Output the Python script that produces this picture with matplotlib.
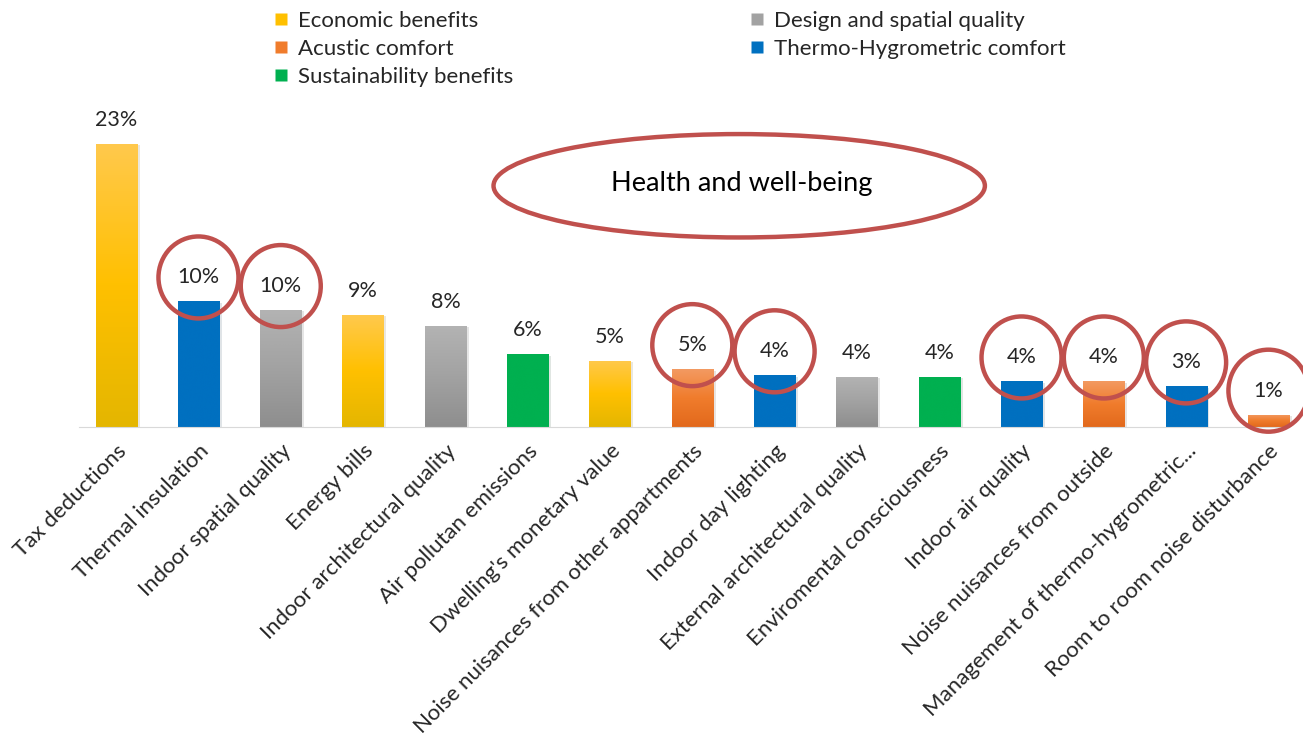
import numpy as np
import matplotlib
matplotlib.use("Agg")
import matplotlib.pyplot as plt
import matplotlib.colors as mcolors
from matplotlib.lines import Line2D
from matplotlib.patches import Ellipse
from matplotlib.transforms import ScaledTranslation
import matplotlib.patheffects as pe

plt.rcParams['font.family'] = ['Lato', 'DejaVu Sans']

# survey answers, share of respondents (%)
items = ["Tax deductions", "Thermal insulation", "Indoor spatial quality", "Energy bills",
         "Indoor architectural quality", "Air pollutan emissions", "Dwelling's monetary value",
         "Noise nuisances from other appartments", "Indoor day lighting",
         "External architectural quality", "Enviromental consciousness", "Indoor air quality",
         "Noise nuisances from outside", "Management of thermo-hygrometric...",
         "Room to room noise disturbance"]
shares = [23.0, 10.2, 9.5, 9.1, 8.2, 5.9, 5.4, 4.7, 4.2, 4.1, 4.1, 3.7, 3.7, 3.3, 1.0]
groups = ["eco", "thermo", "design", "eco", "design", "sust", "eco", "acu", "thermo",
          "design", "sust", "thermo", "acu", "thermo", "acu"]
# items that belong to health and well-being
health = [1, 2, 7, 8, 11, 12, 13, 14]

group_names = {"eco": "Economic benefits", "acu": "Acustic comfort",
               "sust": "Sustainability benefits", "design": "Design and spatial quality",
               "thermo": "Thermo-Hygrometric comfort"}
# top -> bottom colour stops for each group
group_grad = {"eco": ["#FFC94D", "#FFC000", "#E4B600"],
              "design": ["#B3B3B3", "#A2A2A2", "#8E8E8E"],
              "acu": ["#F39A62", "#F07C2C", "#E2691C"],
              "thermo": ["#0070C0", "#0070C0", "#0070C0"],
              "sust": ["#00B050", "#00B050", "#00B050"]}

fig = plt.figure(figsize=(13.03, 7.42), dpi=100)
ax = fig.add_axes([75 / 1303, 315 / 742, 1228 / 1303, 320 / 742])

x = np.arange(len(items))
bars = ax.bar(x, shares, width=0.5, color=[group_grad[g][1] for g in groups], zorder=2,
              path_effects=[pe.SimplePatchShadow(offset=(2, -1), alpha=0.12), pe.Normal()])

# vertical gradient fill clipped to each bar
for b, g in zip(bars, groups):
    cmap = mcolors.LinearSegmentedColormap.from_list(g, group_grad[g])
    grad = np.linspace(0, 1, 256).reshape(-1, 1)
    x0, y0 = b.get_x(), b.get_y()
    im = ax.imshow(grad, cmap=cmap, extent=[x0, x0 + b.get_width(), y0, y0 + b.get_height()],
                   origin='upper', aspect='auto', interpolation='bicubic', zorder=2.1)
    im.set_clip_path(b)

for xi, v in zip(x, shares):
    ax.annotate(f"{v:.0f}%", (xi, v), xytext=(0, 17.3), textcoords='offset points',
                ha='center', va='center', fontsize=15.5, color='#262626')

# red rings round the health-related labels
for i in health:
    tr = fig.dpi_scale_trans + ScaledTranslation(x[i], shares[i], ax.transData)
    ax.add_patch(Ellipse((0, 0.24), 0.80, 0.82, transform=tr, fill=False,
                         edgecolor='#C0504D', lw=3.2, zorder=4, clip_on=False))

ax.add_patch(Ellipse((7.57, 19.6), 5.97, 8.4, fill=False, edgecolor='#C0504D', lw=3.2, zorder=4))
ax.text(7.6, 19.75, "Health and well-being", ha='center', va='center', fontsize=19.5,
        color='black')

ax.set_xlim(-0.5, 14.42)
ax.set_ylim(0, 26)
ax.set_yticks([])
ax.set_xticks(x, items, rotation=45, ha='right', rotation_mode='anchor', fontsize=16,
              color='#262626')
ax.tick_params(axis='x', length=0, pad=10)
for s in ['top', 'right', 'left']:
    ax.spines[s].set_visible(False)
ax.spines['bottom'].set_color('#D9D9D9')
ax.spines['bottom'].set_bounds(-0.45, 14.25)

def handle(g):
    return Line2D([], [], ls='', marker='s', markersize=8, markeredgecolor='none',
                  markerfacecolor=group_grad[g][1])

col1 = ["eco", "acu", "sust"]
col2 = ["design", "thermo"]
leg_kw = dict(loc='upper left', frameon=False, fontsize=16, handlelength=0.7,
              handletextpad=0.43, labelspacing=0.36, borderpad=0, borderaxespad=0,
              labelcolor='#262626')
fig.legend([handle(g) for g in col1], [group_names[g] for g in col1],
           bbox_to_anchor=(273 / 1303, 1 - 11 / 742), **leg_kw)
fig.legend([handle(g) for g in col2], [group_names[g] for g in col2],
           bbox_to_anchor=(749 / 1303, 1 - 11 / 742), **leg_kw)

fig.savefig("out.png", dpi=100)
